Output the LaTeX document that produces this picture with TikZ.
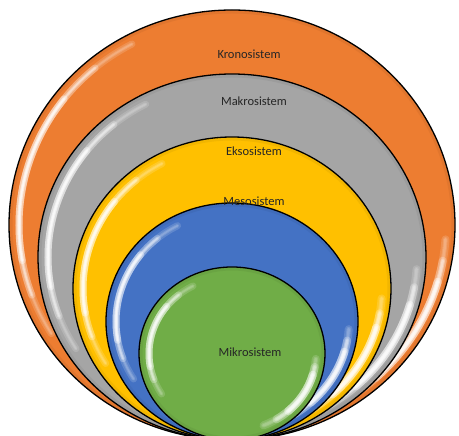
\documentclass[tikz,border=0pt]{standalone}
\usepackage{fontspec}
\setmainfont{Carlito}
\usetikzlibrary{positioning}
\definecolor{KronoOrange}{HTML}{ED7D31}
\definecolor{MakroGray}{HTML}{A5A5A5}
\definecolor{EksoYellow}{HTML}{FFC000}
\definecolor{MesoBlue}{HTML}{4472C4}
\definecolor{MikroGreen}{HTML}{70AD47}

\tikzset{
  ring/.style={draw=black, line width=1.3pt},
  gloss/.style={white, line cap=round},
  lbl/.style={font=\fontsize{12.5}{14}\selectfont, text=black!85, inner sep=0pt}
}

\begin{document}
\begin{tikzpicture}[x=1pt,y=1pt]
  \useasboundingbox (0,0) rectangle (459,436);
  \clip (0,0) rectangle (459,436);
  % common touching point of all rings
  \coordinate (base) at (232,-4);
  % rings, outermost first
  \foreach \rx/\ry/\col in {223/215/KronoOrange, 194/183/MakroGray,
      159/151.5/EksoYellow, 126/118.5/MesoBlue, 93/86.5/MikroGreen} {
    \fill[\col] (base) ++(0,\ry) ellipse[x radius=\rx, y radius=\ry];
    % darker band along the rim
    \draw[\col!80!black, line width=3pt, opacity=0.25] (base) ++(0,\ry)
      ellipse[x radius=\rx-2, y radius=\ry-2];
    % soft white streaks, left and lower right, brighter in the middle
    \foreach \a/\b/\c/\d/\o in {118/212/-4/-68/0.15, 130/200/-10/-58/0.25, 142/190/-16/-48/0.4} {
      \foreach \w in {7,3.5,1.5} {
        \draw[gloss, line width=\w, opacity=\o] (base) ++(0,\ry)
          ++({(\rx-10)*cos(\a)},{(\ry-10)*sin(\a)})
          arc[start angle=\a, end angle=\b, x radius=\rx-10, y radius=\ry-10];
        \draw[gloss, line width=\w+1, opacity=\o] (base) ++(0,\ry)
          ++({(\rx-9)*cos(\c)},{(\ry-9)*sin(\c)})
          arc[start angle=\c, end angle=\d, x radius=\rx-9, y radius=\ry-9];
      }
    }
    \draw[ring] (base) ++(0,\ry) ellipse[x radius=\rx, y radius=\ry];
  }
  % ring names
  \node[lbl] (krono) at (249,382) {Kronosistem};
  \node[lbl] (makro) at (254,334.5) {Makrosistem};
  \node[lbl] (ekso) at (254,285) {Eksosistem};
  \node[lbl] (meso) at (254,235) {Mesosistem};
  \node[lbl] (mikro) at (250,83.5) {Mikrosistem};
\end{tikzpicture}
\end{document}
